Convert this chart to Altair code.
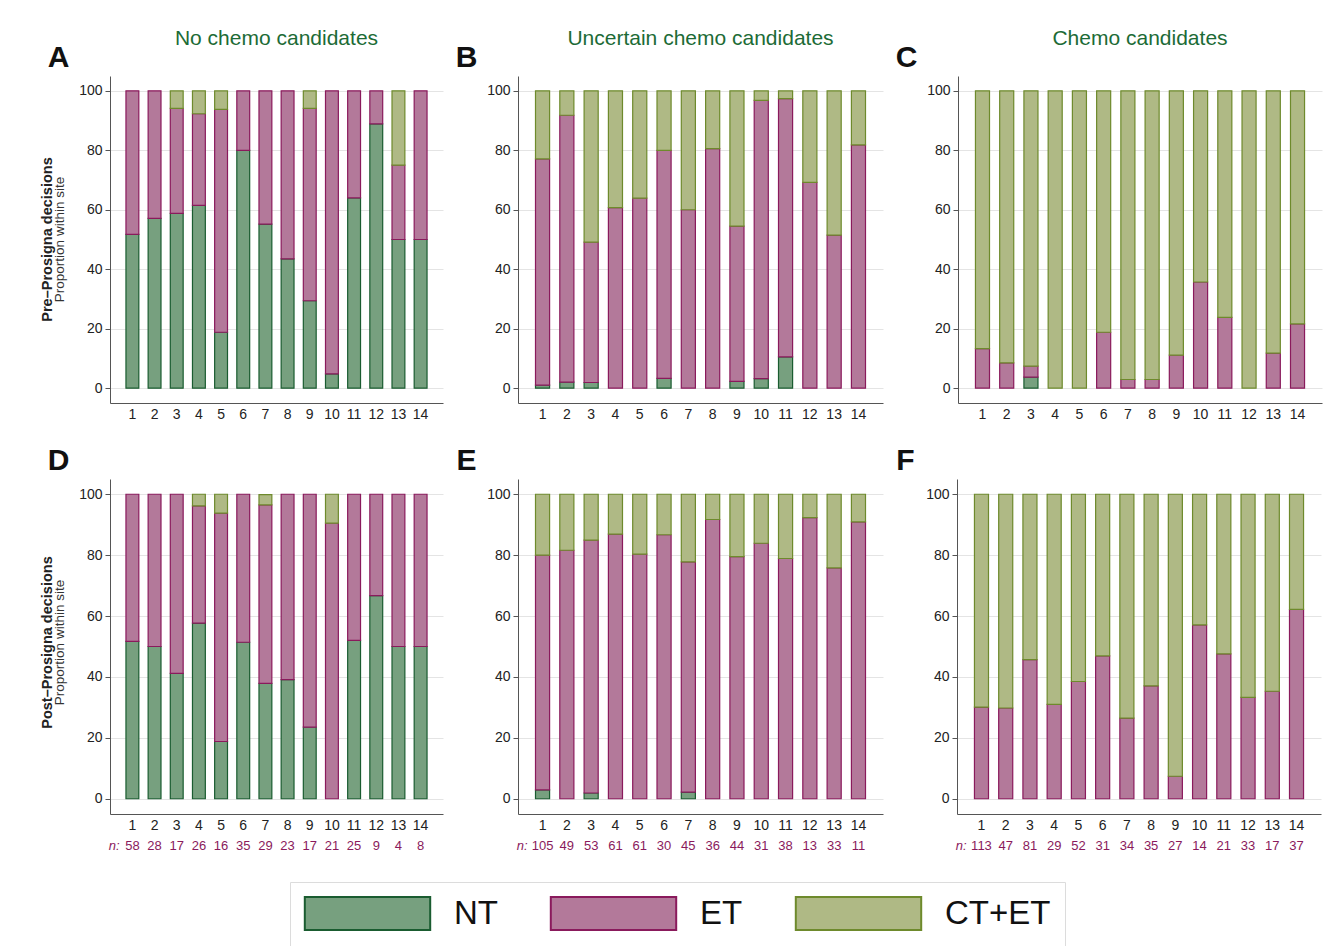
import altair as alt
import pandas as pd

sites = [str(i) for i in range(1, 15)]
categories = ["NT", "ET", "CT+ET"]
fill_colors = ["#77a07f", "#b3799a", "#afb985"]
stroke_colors = ["#1a5c30", "#8a1a5c", "#6e8a2c"]

col_titles = ["No chemo candidates", "Uncertain chemo candidates", "Chemo candidates"]

# sample sizes per site (shown under the post-Prosigna panels)
n_none = [58, 28, 17, 26, 16, 35, 29, 23, 17, 21, 25, 9, 4, 8]
n_unc = [105, 49, 53, 61, 61, 30, 45, 36, 44, 31, 38, 13, 33, 11]
n_chemo = [113, 47, 81, 29, 52, 31, 34, 35, 27, 14, 21, 33, 17, 37]

# A: pre-Prosigna, no chemo candidates (%)
a_nt = [51.7, 57.1, 58.8, 61.5, 18.8, 80.0, 55.2, 43.5, 29.4, 4.8, 64.0, 88.9, 50.0, 50.0]
a_et = [48.3, 42.9, 35.3, 30.8, 75.0, 20.0, 44.8, 56.5, 64.7, 95.2, 36.0, 11.1, 25.0, 50.0]
a_ct = [0, 0, 5.9, 7.7, 6.2, 0, 0, 0, 5.9, 0, 0, 0, 25.0, 0]
# B: pre-Prosigna, uncertain chemo candidates
b_nt = [1.0, 2.0, 1.9, 0, 0, 3.3, 0, 0, 2.3, 3.2, 10.5, 0, 0, 0]
b_et = [76.1, 89.8, 47.2, 60.7, 63.9, 76.7, 60.0, 80.6, 52.2, 93.6, 86.9, 69.2, 51.5, 81.8]
b_ct = [22.9, 8.2, 50.9, 39.3, 36.1, 20.0, 40.0, 19.4, 45.5, 3.2, 2.6, 30.8, 48.5, 18.2]
# C: pre-Prosigna, chemo candidates
c_nt = [0, 0, 3.7, 0, 0, 0, 0, 0, 0, 0, 0, 0, 0, 0]
c_et = [13.3, 8.5, 3.7, 0, 0, 18.8, 2.9, 2.9, 11.1, 35.7, 23.8, 0, 11.8, 21.6]
c_ct = [86.7, 91.5, 92.6, 100, 100, 81.2, 97.1, 97.1, 88.9, 64.3, 76.2, 100, 88.2, 78.4]
# D: post-Prosigna, no chemo candidates
d_nt = [51.7, 50.0, 41.2, 57.7, 18.8, 51.4, 37.9, 39.1, 23.5, 0, 52.0, 66.7, 50.0, 50.0]
d_et = [48.3, 50.0, 58.8, 38.5, 75.0, 48.6, 58.6, 60.9, 76.5, 90.5, 48.0, 33.3, 50.0, 50.0]
d_ct = [0, 0, 0, 3.8, 6.2, 0, 3.4, 0, 0, 9.5, 0, 0, 0, 0]
# E: post-Prosigna, uncertain chemo candidates
e_nt = [2.9, 0, 1.9, 0, 0, 0, 2.2, 0, 0, 0, 0, 0, 0, 0]
e_et = [77.1, 81.6, 83.0, 86.9, 80.3, 86.7, 75.6, 91.7, 79.5, 83.9, 78.9, 92.3, 75.8, 90.9]
e_ct = [20.0, 18.4, 15.1, 13.1, 19.7, 13.3, 22.2, 8.3, 20.5, 16.1, 21.1, 7.7, 24.2, 9.1]
# F: post-Prosigna, chemo candidates
f_nt = [0, 0, 0, 0, 0, 0, 0, 0, 0, 0, 0, 0, 0, 0]
f_et = [30.1, 29.8, 45.7, 31.0, 38.5, 46.9, 26.5, 37.1, 7.4, 57.1, 47.6, 33.3, 35.3, 62.2]
f_ct = [69.9, 70.2, 54.3, 69.0, 61.5, 53.1, 73.5, 62.9, 92.6, 42.9, 52.4, 66.7, 64.7, 37.8]

panel_data = {
    "A": (a_nt, a_et, a_ct), "B": (b_nt, b_et, b_ct), "C": (c_nt, c_et, c_ct),
    "D": (d_nt, d_et, d_ct), "E": (e_nt, e_et, e_ct), "F": (f_nt, f_et, f_ct),
}

records = []
for letter, series in panel_data.items():
    for i, s in enumerate(sites):
        for o, (cat, vals) in enumerate(zip(categories, series)):
            records.append({"panel": letter, "site": s, "cat": cat, "pct": vals[i], "order": o})
df = pd.DataFrame(records)

FONT = "Liberation Sans"
MAGENTA = "#8a1a5c"

legend = alt.Legend(
    title=None, orient="none", legendX=180, legendY=806, direction="horizontal",
    symbolType="M-3.8,-1L3.8,-1L3.8,1L-3.8,1Z", symbolSize=1089,
    symbolOffset=46, symbolStrokeWidth=2, symbolOpacity=1,
    labelFontSize=33, labelFont=FONT, labelColor="#111",
    labelOffset=69, columnPadding=48, padding=14,
    strokeColor="#dcdcdc", fillColor="white",
)

fill_scale = alt.Scale(domain=categories, range=fill_colors)
stroke_scale = alt.Scale(domain=categories, range=stroke_colors)


def panel(letter, width, height, title=None, n_list=None):
    base = alt.Chart(df).transform_filter(
        f"datum.panel == '{letter}' && datum.pct > 0"
    )
    bars = base.mark_bar(strokeWidth=1.2).encode(
        x=alt.X(
            "site:N", sort=sites,
            scale=alt.Scale(paddingInner=0.42, paddingOuter=0.72),
            axis=alt.Axis(
                title=None, labelAngle=0, ticks=False, grid=False,
                labelFontSize=14, labelPadding=4, labelColor="#222",
                domainColor="#555", labelFont=FONT,
            ),
        ),
        y=alt.Y(
            "pct:Q", stack="zero",
            scale=alt.Scale(domain=[-5, 105], nice=False, zero=False),
            axis=alt.Axis(
                values=[0, 20, 40, 60, 80, 100], grid=True, gridColor="#e4e4e4",
                tickSize=5, tickColor="#555", domainColor="#555",
                labelFontSize=14, labelColor="#222", labelFont=FONT, labelPadding=3,
                title=letter, titleAngle=0, titleX=-52, titleY=-19,
                titleAlign="center", titleBaseline="middle",
                titleFontSize=30, titleFontWeight="bold", titleColor="#111",
                titleFont=FONT,
            ),
        ),
        fill=alt.Fill("cat:N", scale=fill_scale, legend=legend),
        stroke=alt.Stroke("cat:N", scale=stroke_scale, legend=legend),
        order=alt.Order("order:Q"),
    )
    chart = bars
    if n_list is not None:
        expr = "[" + ",".join(f"'{n}'" for n in n_list) + "][toNumber(datum.value) - 1]"
        nlayer = base.mark_bar(opacity=0).encode(
            x=alt.X(
                "site:N", sort=sites,
                axis=alt.Axis(
                    orient="bottom", offset=20, domain=False, ticks=False, grid=False,
                    labelAngle=0, labelExpr=expr, labelFontSize=13,
                    labelColor=MAGENTA, labelFont=FONT, labelPadding=5,
                    title="n:", titleFontStyle="italic", titleFontWeight="normal",
                    titleFontSize=13, titleColor=MAGENTA, titleFont=FONT,
                    titleX=9, titleY=5, titleAlign="right", titleBaseline="top",
                ),
            ),
        )
        chart = alt.layer(bars, nlayer).resolve_axis(x="independent")
    props = {"width": width, "height": height}
    if title is not None:
        props["title"] = alt.TitleParams(
            text=title, fontSize=21, fontWeight="normal", color="#1c6b36",
            anchor="middle", frame="group", font=FONT, offset=-7,
        )
    return chart.properties(**props)


widths = [333, 365, 364]


def row_title(text, dx):
    return alt.TitleParams(
        text=text, subtitle="Proportion within site",
        orient="left", anchor="middle", fontSize=14.5, fontWeight="bold",
        color="#222", subtitleFontSize=13.5, subtitleFontWeight="normal",
        subtitleColor="#333", subtitlePadding=-3, offset=-20, font=FONT,
        subtitleFont=FONT, dx=dx,
    )


row1 = alt.hconcat(
    panel("A", widths[0], 327, col_titles[0]),
    panel("B", widths[1], 327, col_titles[1]),
    panel("C", widths[2], 327, col_titles[2]),
    spacing=12,
).properties(title=row_title("Pre\u2013Prosigna decisions", -15))

row2 = alt.hconcat(
    panel("D", widths[0], 335, n_list=n_none),
    panel("E", widths[1], 335, n_list=n_unc),
    panel("F", widths[2], 335, n_list=n_chemo),
    spacing=12,
).properties(title=row_title("Post\u2013Prosigna decisions", 6))

chart = (
    alt.vconcat(row1, row2, spacing=24)
    .resolve_scale(fill="shared", stroke="shared")
    .configure_view(strokeWidth=0)
    .properties(padding={"left": 32, "top": 20, "right": 5, "bottom": 5})
)

chart.save("out.html", embed_options={"renderer": "svg", "actions": False})
